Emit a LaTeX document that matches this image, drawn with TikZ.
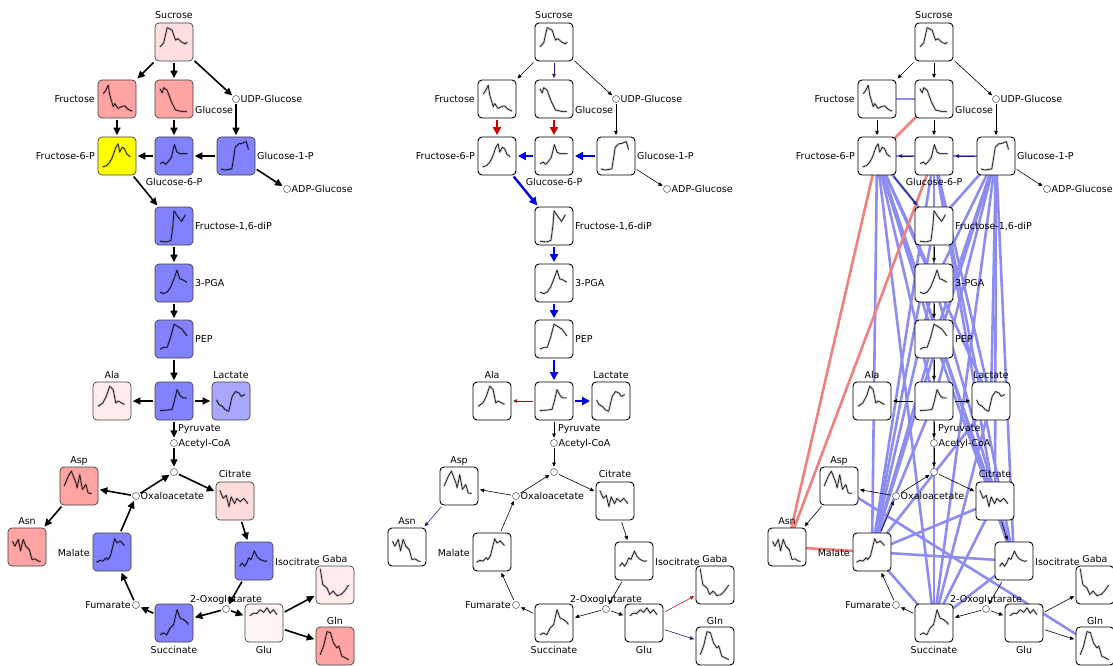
\documentclass[tikz,border=0pt]{standalone}
\usepackage{fontspec}
\setmainfont{DejaVu Sans}
\usetikzlibrary{arrows.meta,backgrounds}
\definecolor{cPinkL}{HTML}{FFDEE0}
\definecolor{cSalmon}{HTML}{FFA3A3}
\definecolor{cYel}{HTML}{FFFF00}
\definecolor{cBlue}{HTML}{8282FF}
\definecolor{cBlueL}{HTML}{A8A8FF}
\definecolor{cPinkVL}{HTML}{FFEDED}
\definecolor{cPinkC}{HTML}{FFDCDC}
\definecolor{cGlu}{HTML}{FFF5F5}
\definecolor{cCorr}{HTML}{8C8CF2}
\definecolor{cCorrR}{HTML}{F08080}
\definecolor{cRedA}{HTML}{CC0000}
\definecolor{cBlueA}{HTML}{0000EE}
\definecolor{cBlueB}{HTML}{0000CC}
\definecolor{cBlueC}{HTML}{2020B0}
\definecolor{cRedC}{HTML}{B02020}
\definecolor{cNavy}{HTML}{1C1C80}
\definecolor{cDkRed}{HTML}{8B1010}

\tikzset{
  metbox/.style={draw=black, line width=0.8pt, fill=white, rounded corners=4pt,
    minimum width=38pt, minimum height=38pt, inner sep=0pt},
  aBox/.style={draw=black!75, line width=0.7pt},
  bBox/.style={draw=black, line width=0.9pt},
  metcirc/.style={circle, draw=black!70, line width=0.5pt, fill=white, minimum size=7pt, inner sep=0pt},
  lbl/.style={font=\fontsize{9.5}{10}\selectfont, inner sep=0pt, text height=6.9pt, text depth=0pt},
  spkband/.style={draw=black, opacity=0.22, line width=2.2pt, line join=round},
  spkline/.style={draw=black, line width=0.55pt, line join=round},
  arrA/.style={draw=black, line width=1.6pt, -{Triangle[length=7.5pt,width=7pt]}, shorten >=1.5pt, shorten <=1.5pt},
  arrT/.style={draw=black, line width=0.6pt, -{Triangle[length=4.2pt,width=3.6pt]}, shorten >=1.5pt, shorten <=1.5pt},
  redT/.style={draw=cRedA, line width=2.4pt, -{Triangle[length=8pt,width=8pt]}},
  blueT/.style={draw=cBlueA, line width=2.4pt, -{Triangle[length=8pt,width=8pt]}},
  corr/.style={draw=cCorr, line width=2.6pt},
  corrR/.style={draw=cCorrR, line width=2.6pt},
  % fills of panel a
  aSucF/.style={fill=cPinkL}, aFruF/.style={fill=cSalmon}, aGlcF/.style={fill=cSalmon},
  aF6PF/.style={fill=cYel}, aG6PF/.style={fill=cBlue}, aG1PF/.style={fill=cBlue},
  aF16F/.style={fill=cBlue}, aPGAF/.style={fill=cBlue}, aPEPF/.style={fill=cBlue},
  aPyrF/.style={fill=cBlue}, aAlaF/.style={fill=cPinkVL}, aLacF/.style={fill=cBlueL},
  aCitF/.style={fill=cPinkC}, aAspF/.style={fill=cSalmon}, aAsnF/.style={fill=cSalmon},
  aMalF/.style={fill=cBlue}, aIsoF/.style={fill=cBlue}, aGabaF/.style={fill=cPinkVL},
  aGluF/.style={fill=cGlu}, aSccF/.style={fill=cBlue}, aGlnF/.style={fill=cSalmon},
  % edges of panel b
  bSucGlc/.style={draw=cNavy},
  bFruF6P/.style={redT}, bGlcG6P/.style={redT},
  bG1PG6P/.style={blueT}, bG6PF6P/.style={blueT}, bF6PF16/.style={blueT},
  bF16PGA/.style={blueT}, bPGAPEP/.style={blueT}, bPEPPyr/.style={blueT},
  bPyrLac/.style={blueT, draw=cBlueB, line width=2pt},
  bPyrAla/.style={draw=cDkRed, line width=0.8pt},
  bAspAsn/.style={draw=cBlueC}, bGluGaba/.style={draw=cRedC}, bGluGln/.style={draw=cNavy},
  % edges of panel c
  cG1PG6P/.style={draw=cNavy, line width=1pt}, cG6PF6P/.style={draw=cNavy, line width=1pt},
  cF6PF16/.style={draw=cNavy, line width=1pt},
}

\newcommand\bx[5]{%
  \node[metbox,#4] (#1) at (#2,#3) {};
  \begin{scope}[shift={(#2-19,#3-19)},x=38pt,y=-38pt]
    \draw[spkband] plot coordinates {#5};
    \draw[spkline] plot coordinates {#5};
  \end{scope}}
\newcommand\met[3]{\node[metcirc] (#1) at (#2,#3) {};}
\newcommand\lb[5]{\node[lbl,anchor=#4] (#1) at (#2,#3) {#5};}
\newcommand\arr[4]{\draw[#1,#2#3#4/.try] (#2#3) -- (#2#4);}

\newcommand\panel[3]{%
  \bx{#1Suc}{174}{42}{#2,#1SucF/.try}{(0.13,0.63) (0.23,0.52) (0.32,0.12) (0.45,0.19) (0.54,0.45) (0.6,0.41) (0.7,0.5) (0.8,0.55) (0.85,0.5)}
  \bx{#1Fru}{117}{99}{#2,#1FruF/.try}{(0.14,0.36) (0.2,0.28) (0.27,0.14) (0.31,0.4) (0.4,0.7) (0.44,0.62) (0.53,0.75) (0.62,0.7) (0.7,0.68) (0.79,0.77) (0.9,0.82)}
  \bx{#1Glc}{174}{99}{#2,#1GlcF/.try}{(0.13,0.23) (0.19,0.34) (0.23,0.2) (0.32,0.27) (0.43,0.57) (0.54,0.79) (0.71,0.83) (0.84,0.83)}
  \met{#1UDP}{236}{99}
  \bx{#1F6P}{117}{156}{#2,#1F6PF/.try}{(0.12,0.79) (0.23,0.75) (0.31,0.66) (0.38,0.53) (0.47,0.27) (0.53,0.18) (0.57,0.4) (0.64,0.27) (0.7,0.31) (0.76,0.45) (0.85,0.52)}
  \bx{#1G6P}{174}{156}{#2,#1G6PF/.try}{(0.13,0.7) (0.22,0.66) (0.28,0.72) (0.37,0.62) (0.43,0.53) (0.51,0.2) (0.58,0.4) (0.67,0.44) (0.8,0.44) (0.86,0.44)}
  \bx{#1G1P}{236}{156}{#2,#1G1PF/.try}{(0.1,0.84) (0.21,0.87) (0.39,0.84) (0.48,0.27) (0.57,0.18) (0.65,0.17) (0.77,0.12) (0.83,0.33)}
  \met{#1ADP}{287}{189}
  \bx{#1F16}{174}{226}{#2,#1F16F/.try}{(0.13,0.9) (0.3,0.92) (0.42,0.88) (0.47,0.5) (0.5,0.1) (0.6,0.25) (0.7,0.38) (0.8,0.2)}
  \bx{#1PGA}{174}{283}{#2,#1PGAF/.try}{(0.13,0.74) (0.23,0.78) (0.32,0.74) (0.41,0.61) (0.5,0.39) (0.58,0.16) (0.65,0.39) (0.74,0.42) (0.84,0.48)}
  \bx{#1PEP}{174}{339}{#2,#1PEPF/.try}{(0.13,0.77) (0.23,0.72) (0.32,0.72) (0.41,0.46) (0.5,0.11) (0.58,0.16) (0.71,0.24) (0.84,0.42)}
  \bx{#1Pyr}{174}{401}{#2,#1PyrF/.try}{(0.13,0.75) (0.32,0.74) (0.45,0.72) (0.51,0.5) (0.58,0.2) (0.67,0.37) (0.74,0.42) (0.84,0.42)}
  \bx{#1Ala}{112}{401}{#2,#1AlaF/.try}{(0.13,0.64) (0.26,0.55) (0.35,0.38) (0.44,0.11) (0.53,0.2) (0.6,0.55) (0.66,0.5) (0.75,0.55) (0.83,0.59)}
  \bx{#1Lac}{231}{401}{#2,#1LacF/.try}{(0.12,0.47) (0.18,0.59) (0.27,0.64) (0.35,0.73) (0.44,0.77) (0.53,0.38) (0.62,0.25) (0.71,0.29) (0.77,0.38) (0.86,0.33)}
  \met{#1ACoA}{174}{443}
  \met{#1J}{174}{472}
  \bx{#1Cit}{235}{501}{#2,#1CitF/.try}{(0.1,0.22) (0.19,0.43) (0.27,0.35) (0.34,0.65) (0.4,0.39) (0.49,0.57) (0.55,0.43) (0.64,0.52) (0.73,0.43) (0.84,0.57)}
  \met{#1OAA}{136}{496}
  \bx{#1Asp}{79}{486}{#2,#1AspF/.try}{(0.11,0.5) (0.22,0.24) (0.3,0.11) (0.42,0.42) (0.45,0.55) (0.52,0.2) (0.59,0.59) (0.68,0.46) (0.74,0.68) (0.83,0.7)}
  \bx{#1Asn}{27}{547}{#2,#1AsnF/.try}{(0.12,0.35) (0.18,0.48) (0.27,0.3) (0.33,0.6) (0.4,0.3) (0.47,0.48) (0.56,0.57) (0.63,0.83) (0.71,0.81) (0.8,0.87) (0.86,0.88)}
  \bx{#1Mal}{112}{552}{#2,#1MalF/.try}{(0.09,0.77) (0.18,0.72) (0.26,0.74) (0.35,0.65) (0.39,0.7) (0.46,0.6) (0.57,0.15) (0.63,0.26) (0.72,0.21) (0.83,0.33)}
  \bx{#1Iso}{254}{561}{#2,#1IsoF/.try}{(0.12,0.64) (0.19,0.55) (0.25,0.64) (0.31,0.55) (0.36,0.42) (0.42,0.46) (0.51,0.24) (0.58,0.38) (0.66,0.46) (0.78,0.51) (0.84,0.49)}
  \bx{#1Gaba}{335}{585}{#2,#1GabaF/.try}{(0.11,0.07) (0.18,0.49) (0.29,0.58) (0.36,0.75) (0.45,0.66) (0.55,0.78) (0.66,0.75) (0.75,0.66) (0.86,0.5)}
  \met{#1OG}{226}{609}
  \bx{#1Glu}{264}{623}{#2,#1GluF/.try}{(0.13,0.31) (0.22,0.24) (0.31,0.25) (0.4,0.15) (0.49,0.22) (0.58,0.1) (0.66,0.24) (0.75,0.15) (0.84,0.28)}
  \met{#1Fum}{136}{605}
  \bx{#1Scc}{174}{623}{#2,#1SccF/.try}{(0.13,0.81) (0.22,0.76) (0.31,0.81) (0.4,0.63) (0.49,0.54) (0.58,0.15) (0.66,0.37) (0.75,0.41) (0.84,0.48) (0.88,0.54)}
  \bx{#1Gln}{335}{646}{#2,#1GlnF/.try}{(0.11,0.73) (0.2,0.5) (0.29,0.12) (0.38,0.15) (0.46,0.42) (0.55,0.55) (0.6,0.5) (0.68,0.77) (0.77,0.81) (0.86,0.86)}
  % labels
  \lb{#1SucL}{174}{15}{center}{Sucrose}
  \lb{#1FruL}{95}{99}{east}{Fructose}
  \lb{#1GlcL}{195}{110}{west}{Glucose}
  \lb{#1UDPL}{240.5}{99}{west}{UDP-Glucose}
  \lb{#1F6PL}{95}{156}{east}{Fructose-6-P}
  \lb{#1G6PL}{174}{182}{center}{Glucose-6-P}
  \lb{#1G1PL}{257}{156}{west}{Glucose-1-P}
  \lb{#1ADPL}{291.5}{189}{west}{ADP-Glucose}
  \lb{#1F16L}{195}{226}{west}{Fructose-1,6-diP}
  \lb{#1PGAL}{195}{283}{west}{3-PGA}
  \lb{#1PEPL}{195}{339}{west}{PEP}
  \lb{#1AlaL}{112}{375}{center}{Ala}
  \lb{#1LacL}{231}{375}{center}{Lactate}
  \lb{#1PyrL}{178}{428}{west}{Pyruvate}
  \lb{#1ACoAL}{178.5}{443}{west}{Acetyl-CoA}
  \lb{#1CitL}{235}{474}{center}{Citrate}
  \lb{#1OAAL}{140.5}{496}{west}{Oxaloacetate}
  \lb{#1AspL}{79}{460}{center}{Asp}
  \lb{#1AsnL}{27}{521}{center}{Asn}
  \lb{#1MalL}{90}{553}{east}{Malate}
  \lb{#1IsoL}{275}{562}{west}{Isocitrate}
  \lb{#1GabaL}{335}{559}{center}{Gaba}
  \lb{#1OGL}{226}{599}{center}{2-Oxoglutarate}
  \lb{#1GluL}{264}{650}{center}{Glu}
  \lb{#1FumL}{131}{605}{east}{Fumarate}
  \lb{#1SccL}{174}{650}{center}{Succinate}
  \lb{#1GlnL}{335}{621}{center}{Gln}
  % reactions
  \arr{#3}{#1}{Suc}{Fru}
  \arr{#3}{#1}{Suc}{Glc}
  \arr{#3}{#1}{Suc}{UDP}
  \arr{#3}{#1}{UDP}{G1P}
  \arr{#3}{#1}{Fru}{F6P}
  \arr{#3}{#1}{Glc}{G6P}
  \arr{#3}{#1}{G1P}{G6P}
  \arr{#3}{#1}{G6P}{F6P}
  \arr{#3}{#1}{G1P}{ADP}
  \arr{#3}{#1}{F6P}{F16}
  \arr{#3}{#1}{F16}{PGA}
  \arr{#3}{#1}{PGA}{PEP}
  \arr{#3}{#1}{PEP}{Pyr}
  \arr{#3}{#1}{Pyr}{Ala}
  \arr{#3}{#1}{Pyr}{Lac}
  \arr{#3}{#1}{Pyr}{ACoA}
  \arr{#3}{#1}{ACoA}{J}
  \arr{#3}{#1}{OAA}{J}
  \arr{#3}{#1}{J}{Cit}
  \arr{#3}{#1}{Cit}{Iso}
  \arr{#3}{#1}{Iso}{OG}
  \arr{#3}{#1}{OG}{Scc}
  \arr{#3}{#1}{OG}{Glu}
  \arr{#3}{#1}{Scc}{Fum}
  \arr{#3}{#1}{Fum}{Mal}
  \arr{#3}{#1}{Mal}{OAA}
  \arr{#3}{#1}{OAA}{Asp}
  \arr{#3}{#1}{Asp}{Asn}
  \arr{#3}{#1}{Glu}{Gaba}
  \arr{#3}{#1}{Glu}{Gln}
}

\begin{document}
\begin{tikzpicture}[x=1pt,y=-1pt]
\useasboundingbox (0,0) rectangle (1113,666);
\panel{a}{aBox}{arrA}
\begin{scope}[xshift=380pt]
\panel{b}{bBox}{arrT}
\end{scope}
\begin{scope}[xshift=760pt]
\panel{c}{bBox}{arrT}
\end{scope}
\begin{pgfonlayer}{background}
  \foreach \s in {F6P,G6P,G1P}{
    \foreach \t in {F16,PGA,PEP,Pyr,Lac,Cit,Iso,Mal,Scc}{
      \draw[corr] (c\s.center) -- (c\t.center);
    }
  }
  \foreach \s/\t in {Fru/Glc,G6P/F6P,G1P/G6P,Mal/Scc,Mal/Iso,Scc/Iso,Mal/Lac,Scc/Lac,
      Mal/Cit,Scc/Cit,Mal/F16,Scc/F16,Mal/PGA,Scc/PGA,Mal/PEP,Scc/PEP,Iso/PGA,Iso/PEP,
      Asp/Gln,Mal/Pyr,Scc/Pyr}{
    \draw[corr] (c\s.center) -- (c\t.center);
  }
  \foreach \s/\t in {F6P/Asn,G6P/Asn,Glc/F6P,Asn/Mal}{
    \draw[corrR] (c\s.center) -- (c\t.center);
  }
\end{pgfonlayer}
\end{tikzpicture}
\end{document}
